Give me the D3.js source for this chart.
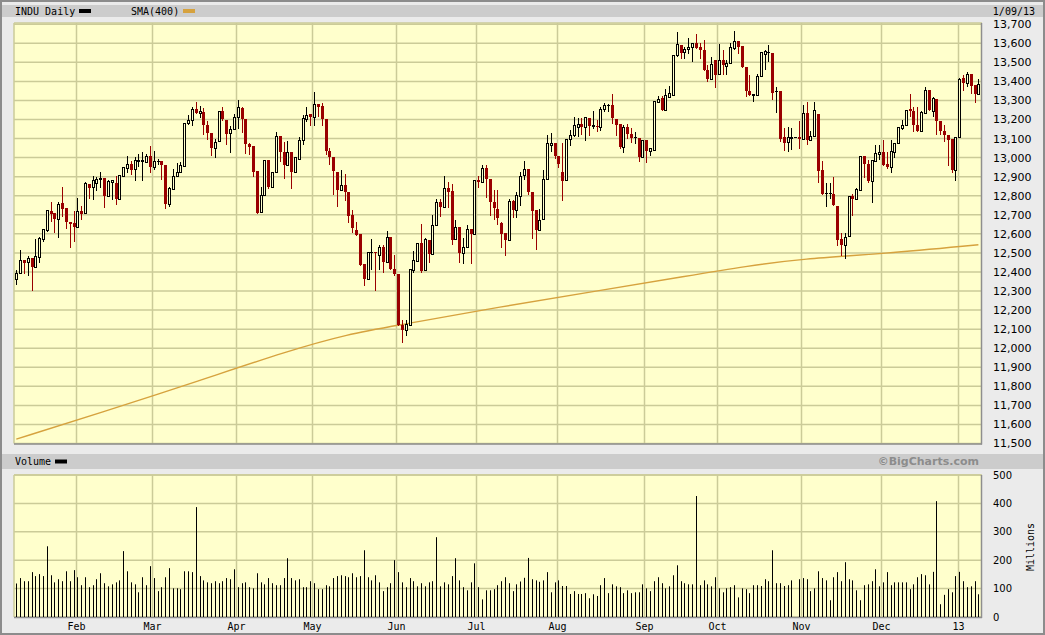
<!DOCTYPE html>
<html><head><meta charset="utf-8">
<script src="https://cdn.jsdelivr.net/npm/d3@7"></script>
<style>html,body{margin:0;padding:0;background:#fff}svg{display:block}</style>
</head><body>
<svg id="c" width="1045" height="635"></svg>
<script>
// ---------- data ----------
const openP = [
12361,12395,12463,12451,12472,12424,12477,12573,12620,12719,
12710,12677,12761,12736,12661,12657,12636,12719,12708,12860,
12845,12866,12887,12892,12801,12873,12867,12782,12901,12946,
12967,12939,12983,12984,12976,13009,12953,12982,12983,12960,
12755,12834,12906,12922,12955,13181,13197,13254,13232,13240,
13172,13130,13050,13086,13242,13197,13128,13149,13212,13260,
13202,13072,13062,12929,12715,12806,12985,12846,12922,13116,
13030,12962,13029,12925,12995,13092,13205,13228,13214,13279,
13270,13204,13036,13002,12923,12831,12855,12818,12698,12619,
12598,12444,12365,12503,12507,12491,12529,12452,12582,12416,
12391,12123,12095,12123,12412,12458,12554,12412,12566,12496,
12649,12768,12741,12838,12824,12571,12638,12502,12533,12627,
12601,12881,12873,12943,12890,12768,12733,12657,12602,12568,
12773,12726,12796,12910,12942,12822,12723,12618,12679,12889,
13068,13076,13010,12922,12884,13097,13120,13159,13174,13162,
13206,13168,13164,13162,13255,13274,13274,13204,13176,13055,
13159,13124,13107,13103,13001,13090,13036,13041,13293,13313,
13251,13320,13330,13540,13589,13554,13570,13581,13600,13581,
13565,13458,13414,13514,13439,13514,13481,13495,13575,13611,
13584,13474,13348,13327,13330,13427,13544,13553,13549,13347,
13351,13108,13080,13105,13107,13108,13097,13232,13092,13115,
13229,12936,12814,12815,12808,12744,12572,12539,12591,12796,
12784,12831,13010,12968,12875,12980,13019,13029,12966,12949,
13029,13076,13155,13169,13255,13246,13173,13138,13234,13353,
13246,13309,13190,13138,13120,13097,12936,13108,13416,13393,
13438,13380,13333];
const highP = [
12409,12514,12463,12482,12472,12571,12585,12624,12724,12766,
12710,12769,12845,12736,12661,12719,12789,12747,12871,12860,
12902,12897,12925,12892,12883,12881,12904,12909,12950,13006,
12983,13001,13020,13027,13020,13062,13036,12995,12983,12960,
12848,12939,12972,12978,13181,13226,13263,13291,13270,13258,
13191,13130,13100,13242,13265,13197,13167,13228,13302,13265,
13202,13078,13062,12929,12846,12985,12985,12922,13134,13116,
13081,13085,13029,13001,13106,13226,13268,13228,13344,13279,
13284,13204,13050,13002,12923,12934,12916,12818,12724,12663,
12598,12444,12507,12575,12507,12540,12540,12614,12582,12487,
12391,12146,12146,12414,12510,12554,12650,12578,12566,12698,
12785,12785,12904,12873,12860,12673,12638,12580,12645,12627,
12881,12904,12959,12959,12890,12829,12829,12663,12602,12782,
12778,12822,12922,12980,12942,12822,12723,12733,12936,13117,
13129,13076,13010,13076,13097,13143,13215,13208,13208,13211,
13206,13244,13199,13267,13287,13281,13334,13204,13176,13173,
13176,13155,13134,13103,13090,13090,13050,13295,13322,13325,
13360,13374,13540,13660,13589,13581,13628,13600,13649,13603,
13619,13484,13526,13514,13598,13567,13514,13602,13663,13611,
13584,13474,13435,13334,13439,13554,13563,13589,13549,13369,
13351,13155,13159,13155,13107,13190,13274,13292,13138,13292,
13229,12980,12866,12866,12898,12744,12604,12604,12796,12810,
12843,13010,13010,12985,12989,13064,13064,13090,13029,13090,
13076,13159,13199,13251,13334,13264,13264,13243,13369,13357,
13318,13309,13190,13173,13120,13097,13108,13418,13435,13451,
13438,13380,13415];
const lowP = [
12335,12393,12396,12382,12307,12424,12451,12565,12617,12666,
12612,12582,12696,12629,12529,12565,12636,12677,12708,12790,
12782,12831,12848,12743,12801,12783,12754,12782,12901,12925,
12915,12880,12958,12880,12976,12925,12939,12967,12887,12734,
12747,12834,12906,12922,12955,13174,13170,13233,13211,13123,
13097,13016,13002,13086,13198,13069,13032,13149,13153,13134,
13022,13020,12901,12708,12715,12806,12843,12846,12922,12981,
12894,12962,12841,12925,12995,13071,13191,13172,13172,13218,
13172,13018,12967,12810,12747,12831,12780,12663,12610,12592,
12435,12330,12365,12417,12307,12416,12400,12452,12414,12386,
12120,12032,12071,12123,12400,12458,12400,12412,12452,12496,
12649,12694,12741,12741,12549,12571,12452,12449,12533,12449,
12601,12846,12873,12794,12701,12680,12654,12531,12490,12568,
12689,12689,12752,12889,12808,12577,12519,12618,12679,12889,
13036,12998,12952,12779,12884,13064,13111,13111,13124,13094,
13120,13155,13138,13145,13246,13243,13181,13120,13050,13027,
13103,13080,13076,12980,13001,12975,13015,13041,13293,13251,
13251,13316,13330,13535,13523,13523,13549,13505,13575,13523,
13458,13400,13414,13369,13439,13439,13439,13495,13568,13549,
13474,13325,13327,13295,13330,13427,13467,13505,13309,13237,
13085,13041,13036,13047,13107,13050,13097,13071,13092,13115,
12871,12810,12744,12787,12749,12542,12490,12472,12591,12700,
12784,12831,12898,12870,12765,12980,12992,12963,12945,12924,
13005,13076,13150,13169,13216,13138,13138,13138,13232,13251,
13220,13124,13124,13085,12963,12927,12884,13108,13357,13378,
13339,13294,13333];
const closeP = [
12395,12461,12449,12472,12424,12482,12577,12624,12724,12706,
12677,12755,12733,12661,12654,12636,12719,12706,12866,12843,
12883,12888,12892,12801,12878,12881,12782,12909,12950,12965,
12937,12988,12988,12986,13009,12953,12983,12984,12960,12757,
12839,12906,12922,12960,13181,13197,13254,13233,13242,13169,
13128,13050,13083,13242,13204,13123,13151,13212,13265,13202,
13074,13058,12927,12712,12806,12985,12846,12922,13116,13030,
12962,13029,12925,13001,13092,13207,13226,13211,13279,13265,
13204,13036,13004,12932,12831,12855,12820,12694,12631,12592,
12435,12365,12503,12506,12500,12529,12452,12582,12417,12391,
12120,12093,12125,12414,12461,12554,12405,12571,12496,12649,
12768,12741,12838,12820,12566,12638,12500,12533,12627,12601,
12881,12873,12943,12890,12768,12736,12684,12600,12568,12773,
12726,12805,12906,12942,12819,12721,12618,12675,12887,13076,
13076,13006,12966,12878,13097,13117,13169,13174,13162,13211,
13167,13170,13159,13255,13274,13277,13208,13173,13057,13159,
13124,13103,13109,13001,13090,13036,13050,13295,13308,13251,
13327,13337,13540,13596,13549,13568,13581,13600,13575,13565,
13458,13413,13490,13435,13514,13484,13495,13579,13611,13582,
13474,13348,13327,13334,13427,13554,13558,13555,13339,13349,
13099,13076,13108,13107,13107,13097,13232,13094,13115,13248,
12931,12810,12816,12815,12752,12568,12539,12586,12796,12784,
12835,13010,12968,12875,12985,13022,13029,12963,12952,13033,
13076,13159,13169,13251,13246,13173,13138,13239,13353,13251,
13313,13190,13138,13117,13094,12936,13108,13414,13393,13440,
13375,13333,13385];
// volume, millions of shares
const volumeM = [
118,137,126,126,158,144,151,144,249,147,
122,133,126,161,126,165,140,112,140,105,
112,133,154,119,108,115,122,129,232,161,
122,115,87,140,112,179,137,91,105,140,
172,101,101,98,161,161,158,387,144,129,
122,119,126,119,126,137,133,168,105,119,
122,105,101,154,122,115,137,119,112,112,
137,207,137,129,133,105,105,126,119,98,
98,112,108,137,144,147,144,140,154,140,
144,235,140,129,147,122,91,105,119,200,
158,122,105,137,126,108,119,108,122,126,
281,108,122,115,144,207,129,105,94,122,
189,105,62,94,94,98,112,126,140,119,
91,115,125,138,208,133,129,124,129,158,
87,122,129,109,109,81,91,81,81,84,
66,80,74,112,137,84,115,108,105,84,
94,84,87,87,115,101,91,126,140,119,
101,108,147,182,126,119,115,115,426,112,
129,115,108,140,101,87,101,105,112,69,
101,98,84,112,112,109,133,126,235,119,
119,109,112,129,0,133,137,133,91,101,
161,137,129,59,140,158,126,193,133,129,
94,59,112,115,126,168,108,122,158,112,
122,122,122,122,98,115,140,151,147,115,
159,408,45,78,98,87,144,159,126,105,
108,126,80];
// SMA(400) read at a few bar slots
const smaSlots  = [0, 22, 48, 71, 87, 100, 127, 152, 176, 191, 206, 227, 252];
const smaValues = [11523, 11660, 11830, 11985, 12075, 12120, 12218, 12300, 12380, 12430, 12470, 12495, 12543];
// month labels at the bar slot where each month begins
const monthLabels = ["Feb","Mar","Apr","May","Jun","Jul","Aug","Sep","Oct","Nov","Dec","13"];
const monthSlots  = [16, 36, 58, 78, 100, 121, 142, 165, 184, 206, 227, 247];
const priceTicks = [11500,11600,11700,11800,11900,12000,12100,12200,12300,12400,12500,12600,12700,12800,12900,13000,13100,13200,13300,13400,13500,13600,13700];
const volTicks = [0,100,200,300,400,500];

// ---------- drawing ----------
const W = 1045, H = 635;
const svg = d3.select("#c");
const PL = 14, PR = 981;
const mainTop = 23, mainBot = 443.5;
const volTop = 475, volBot = 617;
const plotFill = "#FFFFCC", gridCol = "#CBCB98";
const mono = "'DejaVu Sans Mono', monospace";
const sans = "'DejaVu Sans', Verdana, sans-serif";

svg.append("rect").attr("width", W).attr("height", H).attr("fill", "#EBEBEB");
svg.append("rect").attr("x", 1).attr("y", 1).attr("width", W - 2).attr("height", H - 2)
  .attr("fill", "none").attr("stroke", "#8C8C8C").attr("stroke-width", 2);
// header bands
svg.append("rect").attr("x", 2).attr("y", 5).attr("width", W - 4).attr("height", 12).attr("fill", "#CCCCCC");
svg.append("rect").attr("x", 2).attr("y", 454).attr("width", W - 4).attr("height", 15).attr("fill", "#CCCCCC");

const n = closeP.length;
const x = d3.scaleLinear().domain([0, n - 1]).range([16.3, 978.4]);
const y = d3.scaleLinear().domain([11500, 13700]).range([mainBot, 24.2]);
const yv = d3.scaleLinear().domain([0, 500]).range([volBot, volTop]);

function panel(top, bot) {
  svg.append("rect").attr("x", PL).attr("y", top).attr("width", PR - PL).attr("height", bot - top).attr("fill", plotFill);
}
panel(mainTop, mainBot);
panel(volTop, volBot);

const gx = d => Math.round(x(d) - 1.8) + 0.5;
// vertical grid
[[mainTop, mainBot], [volTop, volBot]].forEach(([t, b]) => {
  svg.append("g").selectAll("line").data(monthSlots).join("line")
    .attr("x1", gx).attr("x2", gx).attr("y1", t).attr("y2", b)
    .attr("stroke", gridCol).attr("stroke-width", 1.5);
});
// horizontal grid
svg.append("g").selectAll("line").data(priceTicks).join("line")
  .attr("x1", PL).attr("x2", PR).attr("y1", d => y(d)).attr("y2", d => y(d))
  .attr("stroke", gridCol).attr("stroke-width", 1.5);
svg.append("g").selectAll("line").data(volTicks).join("line")
  .attr("x1", PL).attr("x2", PR).attr("y1", d => yv(d)).attr("y2", d => yv(d))
  .attr("stroke", gridCol).attr("stroke-width", 1.5);
// panel frames (light top/left, darker right/bottom)
[[mainTop, mainBot], [volTop, volBot]].forEach(([t, b]) => {
  svg.append("line").attr("x1", PL).attr("x2", PL).attr("y1", t).attr("y2", b).attr("stroke", gridCol).attr("stroke-width", 1.5);
  svg.append("line").attr("x1", PL).attr("x2", PR + 1).attr("y1", t).attr("y2", t).attr("stroke", gridCol).attr("stroke-width", 1.5);
  svg.append("line").attr("x1", PR + 0.5).attr("x2", PR + 0.5).attr("y1", t).attr("y2", b + 1).attr("stroke", "#8E8E8E").attr("stroke-width", 1.5);
  svg.append("line").attr("x1", PL).attr("x2", PR + 1).attr("y1", b + 0.5).attr("y2", b + 0.5).attr("stroke", "#8E8E8E").attr("stroke-width", 1.5);
});

// SMA line
const smaPts = smaSlots.map((s, i) => [s, smaValues[i]]);
svg.append("path").datum(smaPts)
  .attr("d", d3.line().x(d => x(d[0])).y(d => y(d[1])).curve(d3.curveBasis))
  .attr("fill", "none").attr("stroke", "#D6A23E").attr("stroke-width", 1.4);

// candles
const idx = d3.range(n);
const cx = i => Math.round(x(i));
const gC = svg.append("g");
idx.forEach(i => {
  const up = closeP[i] >= openP[i];
  const col = up ? "#000" : "#990000";
  gC.append("line").attr("x1", cx(i) + 0.5).attr("x2", cx(i) + 0.5)
    .attr("y1", Math.round(y(highP[i]))).attr("y2", Math.round(y(lowP[i])) + 1)
    .attr("stroke", col).attr("stroke-width", 1);
  const top = Math.round(y(Math.max(openP[i], closeP[i])));
  const bot = Math.round(y(Math.min(openP[i], closeP[i])));
  if (up) {
    gC.append("rect").attr("x", cx(i) - 0.5).attr("y", top + 0.5)
      .attr("width", 2).attr("height", Math.max(bot - top, 0.01))
      .attr("fill", plotFill).attr("stroke", "#000").attr("stroke-width", 1);
  } else {
    gC.append("rect").attr("x", cx(i) - 1).attr("y", top)
      .attr("width", 3).attr("height", Math.max(bot - top, 1))
      .attr("fill", "#990000");
  }
});

// volume bars
svg.append("g").selectAll("line").data(idx.filter(i => volumeM[i] > 0)).join("line")
  .attr("x1", i => cx(i) + 0.5).attr("x2", i => cx(i) + 0.5)
  .attr("y1", volBot).attr("y2", i => yv(volumeM[i]))
  .attr("stroke", "#000").attr("stroke-width", 1);

// axis labels
const fmt = d3.format(",");
svg.append("g").selectAll("text").data(priceTicks).join("text")
  .attr("x", 993).attr("y", d => y(d)).attr("dy", "0.36em")
  .attr("font-family", sans).attr("font-size", 11).attr("fill", "#000")
  .text(fmt);
svg.append("g").selectAll("text").data(volTicks).join("text")
  .attr("x", 993).attr("y", d => yv(d)).attr("dy", "0.36em")
  .attr("font-family", sans).attr("font-size", 10).attr("fill", "#000")
  .text(d => d);
svg.append("text").attr("transform", "translate(1030,547) rotate(-90)")
  .attr("text-anchor", "middle").attr("dy", "0.36em")
  .attr("font-family", mono).attr("font-size", 10).text("Millions");
svg.append("g").selectAll("text").data(monthSlots).join("text")
  .attr("x", gx).attr("y", 626).attr("dy", "0.36em").attr("text-anchor", "middle")
  .attr("font-family", mono).attr("font-size", 10)
  .text((d, i) => monthLabels[i]);

// header texts & legends
svg.append("text").attr("x", 15).attr("y", 11).attr("dy", "0.36em")
  .attr("font-family", mono).attr("font-size", 10).text("INDU Daily");
svg.append("rect").attr("x", 79).attr("y", 9).attr("width", 12).attr("height", 4).attr("fill", "#000");
svg.append("text").attr("x", 131).attr("y", 11).attr("dy", "0.36em")
  .attr("font-family", mono).attr("font-size", 10).text("SMA(400)");
svg.append("rect").attr("x", 183).attr("y", 9).attr("width", 12).attr("height", 4).attr("fill", "#D6A23E");
svg.append("text").attr("x", 1035).attr("y", 11).attr("dy", "0.36em").attr("text-anchor", "end")
  .attr("font-family", mono).attr("font-size", 10).text("1/09/13");
svg.append("text").attr("x", 15).attr("y", 461.5).attr("dy", "0.36em")
  .attr("font-family", mono).attr("font-size", 10).text("Volume");
svg.append("rect").attr("x", 55).attr("y", 459.5).attr("width", 12).attr("height", 4).attr("fill", "#000");
svg.append("text").attr("x", 979).attr("y", 461.5).attr("dy", "0.36em").attr("text-anchor", "end")
  .attr("font-family", sans).attr("font-weight", "bold").attr("font-size", 11)
  .attr("fill", "#8C8C8C").text("©BigCharts.com");
</script>
</body></html>
